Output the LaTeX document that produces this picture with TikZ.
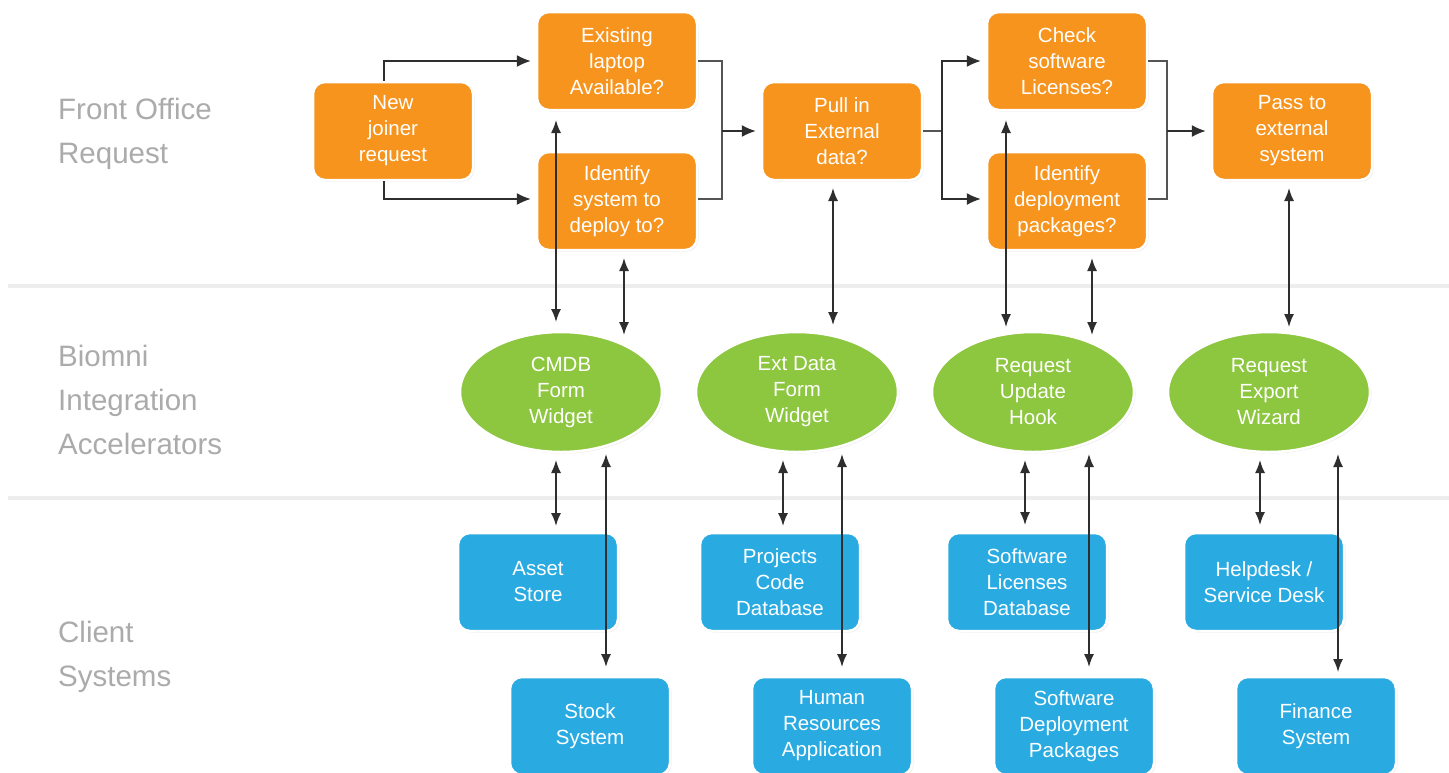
\documentclass[tikz,border=0pt]{standalone}
\usepackage{fontspec}
\setmainfont{Liberation Sans}
\usetikzlibrary{shapes.geometric,arrows.meta,calc,shadows}
\definecolor{orangebox}{HTML}{F7941D}
\definecolor{greenell}{HTML}{8DC63F}
\definecolor{bluebox}{HTML}{29ABE2}
\definecolor{lanegray}{HTML}{ABABAB}
\definecolor{bandgray}{HTML}{EDEDED}
\definecolor{arrowgray}{HTML}{2E2E2E}
\definecolor{linegray}{HTML}{555555}
\tikzset{
  boxbase/.style={rounded corners=12pt, draw=white, line width=2.5pt, minimum width=160pt, minimum height=98pt,
    text=white, align=center, font=\fontsize{20.5}{26}\selectfont, inner sep=0pt,
    drop shadow={opacity=0.15, shadow xshift=1.5pt, shadow yshift=-1.5pt}},
  obox/.style={boxbase, fill=orangebox},
  bbox/.style={boxbase, fill=bluebox},
  gell/.style={ellipse, draw=white, line width=2.5pt, fill=greenell, minimum width=202pt, minimum height=120pt,
    text=white, align=center, font=\fontsize{20.5}{26}\selectfont, inner sep=0pt,
    drop shadow={opacity=0.15, shadow xshift=1.5pt, shadow yshift=-1.5pt}},
  lanelabel/.style={anchor=west, inner sep=0pt, text=lanegray, align=left, font=\fontsize{29.5}{44}\selectfont},
  flow/.style={draw=arrowgray, line width=1.3pt, -{Latex[length=14pt,width=12pt]}},
  junction/.style={draw=linegray, line width=1.3pt},
  dbl/.style={draw=arrowgray, line width=1.6pt, {Latex[length=13pt,width=10pt]}-{Latex[length=13pt,width=10pt]}},
  band/.style={draw=bandgray, line width=4pt}
}
\begin{document}
\begin{tikzpicture}[x=1pt,y=-1pt]
\fill[white] (0,0) rectangle (1449,772);
\useasboundingbox (0,0) rectangle (1449,772);
% lane separators
\draw[band] (8,286) -- (1449,286);
\draw[band] (8,498) -- (1449,498);
% lane labels
\node[lanelabel] (lfront) at (58,134) {Front Office\\Request};
\node[lanelabel] (lbiomni) at (58,400) {Biomni\\Integration\\Accelerators};
\node[lanelabel] (lclient) at (58,657) {Client\\Systems};
% front office nodes
\node[obox] (njr) at (393,131) {New\\joiner\\request};
\node[obox] (exist) at (617,61) {Existing\\laptop\\Available?};
\node[obox] (ident) at (617,201) {Identify\\system to\\deploy to?};
\node[obox] (pull) at (842,131) {Pull in\\External\\data?};
\node[obox] (check) at (1067,61) {Check\\software\\Licenses?};
\node[obox] (idp) at (1067,201) {Identify\\deployment\\packages?};
\node[obox] (pass) at (1292,131) {Pass to\\external\\system};
% accelerators
\node[gell] (cmdb) at (561,392) {CMDB\\Form\\Widget};
\node[gell] (extd) at (797,392) {Ext Data\\Form\\Widget};
\node[gell] (ruh) at (1033,392) {Request\\Update\\Hook};
\node[gell] (rew) at (1269,392) {Request\\Export\\Wizard};
% client systems
\node[bbox] (asset) at (538,582) {Asset\\Store};
\node[bbox] (stock) at (590,726) {Stock\\System};
\node[bbox] (proj) at (780,582) {Projects\\Code\\Database};
\node[bbox] (hr) at (832,726) {Human\\Resources\\Application};
\node[bbox] (sld) at (1027,582) {Software\\Licenses\\Database};
\node[bbox] (sdp) at (1074,726) {Software\\Deployment\\Packages};
\node[bbox] (help) at (1264,582) {Helpdesk /\\Service Desk};
\node[bbox] (fin) at (1316,726) {Finance\\System};
% junction points
\coordinate (j1) at (722,131);
\coordinate (j2) at (942,131);
\coordinate (j3) at (1167,131);
% process flow
\draw[flow, shorten >=5pt] ([xshift=-9pt]njr.north) |- (exist.west);
\draw[flow, shorten >=5pt] ([xshift=-9pt]njr.south) |- ($(ident.west)+(0,-2)$);
\draw[junction] (exist.east) -| (j1);
\draw[junction] ($(ident.east)+(0,-2)$) -| (j1);
\draw[flow, shorten >=5pt] (j1) -- (pull.west);
\draw[junction] (pull.east) -- (j2);
\draw[flow, shorten >=5pt] (j2) |- (check.west);
\draw[flow, shorten >=5pt] (j2) |- ($(idp.west)+(0,-2)$);
\draw[junction] (check.east) -| (j3);
\draw[junction] ($(idp.east)+(0,-2)$) -| (j3);
\draw[flow, shorten >=5pt] (j3) -- (pass.west);
% vertical two-way links
\draw[dbl] ($(exist.center)+(-61,59)$) -- ($(cmdb.center)+(-5,-70)$);
\draw[dbl] ($(ident.center)+(7,57)$) -- ($(cmdb.center)+(63,-57)$);
\draw[dbl] ($(cmdb.center)+(-5,68)$) -- ($(asset.center)+(18,-56)$);
\draw[dbl] ($(cmdb.center)+(45,62)$) -- ($(stock.center)+(16,-59)$);
\draw[dbl] ($(pull.center)+(-9,57)$) -- ($(extd.center)+(36,-67)$);
\draw[dbl] ($(extd.center)+(-14,68)$) -- ($(proj.center)+(3,-56)$);
\draw[dbl] ($(extd.center)+(45,62)$) -- ($(hr.center)+(10,-59)$);
\draw[dbl] ($(check.center)+(-61,59)$) -- ($(ruh.center)+(-27,-65)$);
\draw[dbl] ($(idp.center)+(25,57)$) -- ($(ruh.center)+(59,-57)$);
\draw[dbl] ($(ruh.center)+(-8,68)$) -- ($(sld.center)+(-2,-57)$);
\draw[dbl] ($(ruh.center)+(56,62)$) -- ($(sdp.center)+(15,-59)$);
\draw[dbl] ($(pass.center)+(-3,57)$) -- ($(rew.center)+(20,-65)$);
\draw[dbl] ($(rew.center)+(-9,68)$) -- ($(help.center)+(-4,-57)$);
\draw[dbl] ($(rew.center)+(69,62)$) -- ($(fin.center)+(22,-54)$);
\end{tikzpicture}
\end{document}
